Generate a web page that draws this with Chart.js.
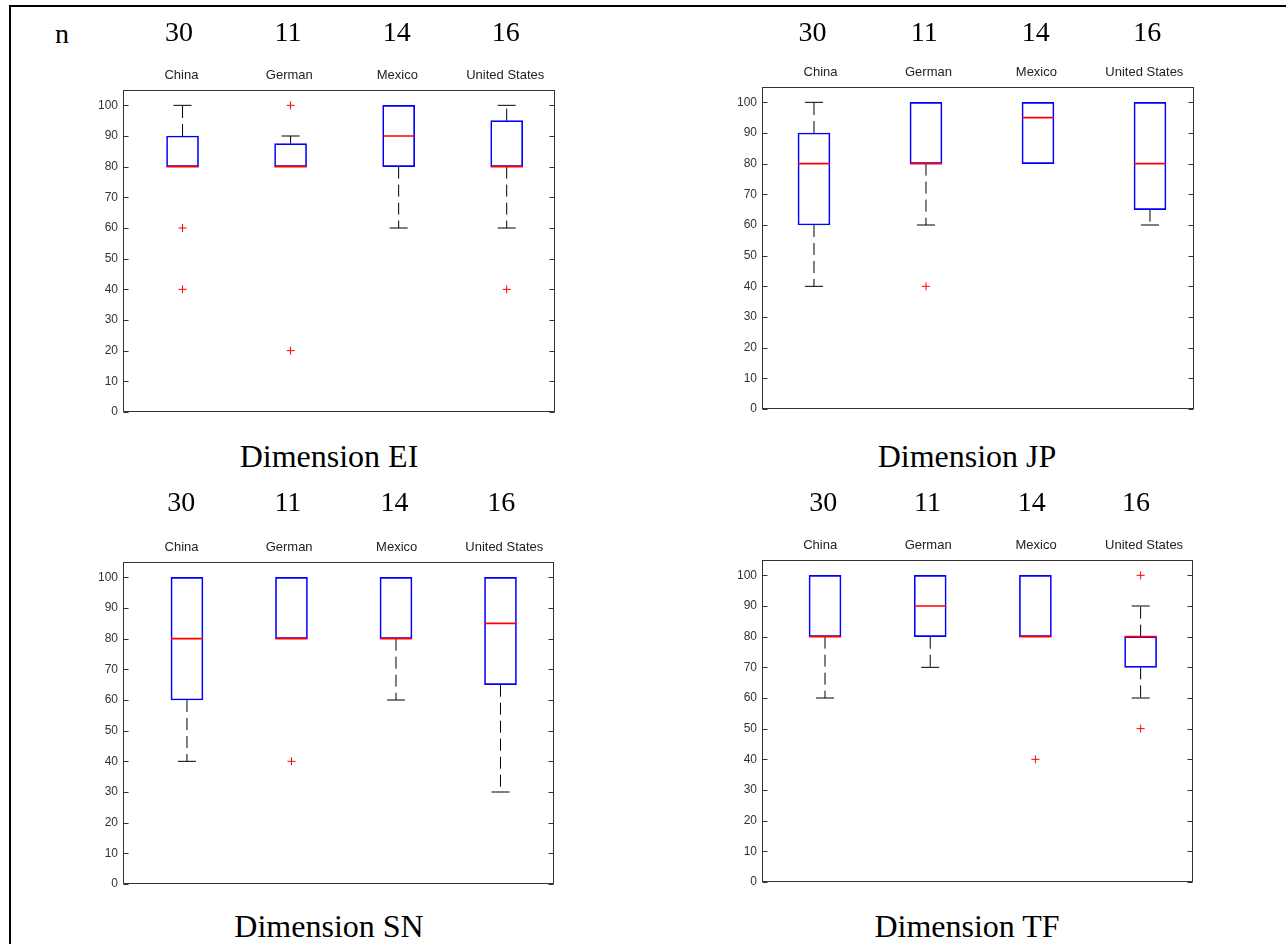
<!DOCTYPE html>
<html>
<head>
<meta charset="utf-8">
<script src="https://cdn.jsdelivr.net/npm/chart.js@4.4.0/dist/chart.umd.min.js"></script>
<style>
    body { margin: 0; background: #fff; width: 1286px; height: 944px; overflow: hidden; position: relative; }
    .moldura { position: absolute; left: 9px; top: 5px; right: 0; bottom: 0; border-top: 2px solid #000; border-left: 2px solid #000; }
    canvas { position: absolute; }
    .texto { position: absolute; font-family: "Liberation Serif", "Times New Roman", serif; color: #000; white-space: nowrap; transform: translateX(-50%); }
    .n { font-size: 28px; line-height: 28px; }
    .titulo { font-size: 32px; line-height: 32px; }
</style>
</head>
<body>
<div class="moldura"></div>
<div class="texto n" style="left:62px; top:20px">n</div>

<canvas id="chartEI" width="492" height="415" style="left:73px; top:10px"></canvas>
<canvas id="chartJP" width="492" height="412" style="left:712px; top:10px"></canvas>
<canvas id="chartSN" width="491" height="417" style="left:73px; top:480px"></canvas>
<canvas id="chartTF" width="491" height="415" style="left:712px; top:480px"></canvas>

<div class="texto titulo" style="left:329px; top:440px">Dimension EI</div>
<div class="texto titulo" style="left:967px; top:440px">Dimension JP</div>
<div class="texto titulo" style="left:329px; top:910px">Dimension SN</div>
<div class="texto titulo" style="left:967px; top:910px">Dimension TF</div>

<script>
const countries = ['China', 'German', 'Mexico', 'United States'];
const sampleSizes = [30, 11, 14, 16];
const yTicks = [0, 10, 20, 30, 40, 50, 60, 70, 80, 90, 100];

// Dimension EI
const eiLow = [80, 80, 60, 60];
const eiQ1 = [80, 80, 80, 80];
const eiMedian = [80, 80, 90, 80];
const eiQ3 = [90, 87.5, 100, 95];
const eiHigh = [100, 90, 100, 100];
const eiOutliers = [[60, 40], [100, 20], [], [40]];

// Dimension JP
const jpLow = [40, 60, 80, 60];
const jpQ1 = [60, 80, 80, 65];
const jpMedian = [80, 80, 95, 80];
const jpQ3 = [90, 100, 100, 100];
const jpHigh = [100, 100, 100, 100];
const jpOutliers = [[], [40], [], []];

// Dimension SN
const snLow = [40, 80, 60, 30];
const snQ1 = [60, 80, 80, 65];
const snMedian = [80, 80, 80, 85];
const snQ3 = [100, 100, 100, 100];
const snHigh = [100, 100, 100, 100];
const snOutliers = [[], [40], [], []];

// Dimension TF
const tfLow = [60, 70, 80, 60];
const tfQ1 = [80, 80, 80, 70];
const tfMedian = [80, 90, 80, 80];
const tfQ3 = [100, 100, 100, 80];
const tfHigh = [100, 100, 100, 90];
const tfOutliers = [[], [], [40], [100, 50]];

// moldura do grafico + marcas dos ticks para dentro (estilo matlab)
const molduraTicks = {
    id: 'molduraTicks',
    afterDraw(chart) {
        const ctx = chart.ctx;
        const area = chart.chartArea;
        const eixoY = chart.scales.y;
        const esq = Math.round(area.left) + 0.5;
        const dir = Math.round(area.right) - 0.5;
        ctx.save();
        ctx.strokeStyle = '#333333';
        ctx.lineWidth = 1;
        ctx.strokeRect(esq, Math.round(area.top) + 0.5, dir - esq, Math.round(area.bottom - area.top) - 1);
        ctx.beginPath();
        eixoY.ticks.forEach(function (tick) {
            let py = Math.round(eixoY.getPixelForValue(tick.value)) + 0.5;
            ctx.moveTo(esq, py);
            ctx.lineTo(esq + 5, py);
            ctx.moveTo(dir - 5, py);
            ctx.lineTo(dir, py);
        });
        ctx.stroke();
        ctx.restore();
    }
};

function eixoTopo(faixa, peso, altura, padding, fonte, cor, textos) {
    return {
        type: 'linear',
        position: 'top',
        min: faixa[0],
        max: faixa[1],
        offset: false,
        weight: peso,
        grid: { display: false, drawTicks: false },
        border: { display: false },
        afterBuildTicks: function (scale) {
            scale.ticks = textos.map(function (t, i) { return { value: i + 1 }; });
        },
        afterFit: function (scale) { scale.height = altura; },
        ticks: {
            padding: padding,
            autoSkip: false,
            maxRotation: 0,
            font: fonte,
            color: cor,
            callback: function (value, index) { return textos[index]; }
        }
    };
}

function plotarBoxplot(idCanvas, low, q1, median, q3, high, outliers, eixo) {
    let caixas = [];
    let medianas = [];
    let bigodes = [];
    let pontas = [];
    let pontos = [];

    for (let i = 0; i < countries.length; i++) {
        let x = i + 1;
        caixas.push({ x: x, y: [q1[i], q3[i]] });
        medianas.push({ x: x, y: median[i] });
        if (high[i] > q3[i]) {
            bigodes.push({ x: x, y: q3[i] }, { x: x, y: high[i] }, { x: x, y: null });
            pontas.push({ x: x, y: high[i] });
        }
        if (low[i] < q1[i]) {
            bigodes.push({ x: x, y: q1[i] }, { x: x, y: low[i] }, { x: x, y: null });
            pontas.push({ x: x, y: low[i] });
        }
        for (let j = 0; j < outliers[i].length; j++) {
            pontos.push({ x: x, y: outliers[i][j] });
        }
    }

    return new Chart(document.getElementById(idCanvas), {
        type: 'bar',
        data: {
            datasets: [
                { type: 'scatter', data: pontos, pointStyle: 'cross', pointRadius: 4, borderColor: '#ff0000', borderWidth: 1, order: 0 },
                { type: 'scatter', data: medianas, pointStyle: 'line', pointRadius: 16, borderColor: '#ff0000', borderWidth: 1.6, order: 1 },
                { type: 'scatter', data: pontas, pointStyle: 'line', pointRadius: 9, borderColor: '#000000', borderWidth: 1, order: 2 },
                { type: 'bar', data: caixas, backgroundColor: 'rgba(0,0,0,0)', borderColor: '#0000ff', borderWidth: 1, borderSkipped: false, barThickness: 32, order: 3 },
                { type: 'line', data: bigodes, borderColor: '#000000', borderWidth: 1, borderDash: [12, 6], pointRadius: 0, spanGaps: false, order: 4 }
            ]
        },
        options: {
            responsive: false,
            animation: false,
            events: [],
            layout: { autoPadding: false, padding: { top: 0, right: 10, bottom: 13, left: 0 } },
            plugins: {
                legend: { display: false },
                tooltip: { enabled: false }
            },
            scales: {
                x: { type: 'linear', display: false, min: eixo.caixas[0], max: eixo.caixas[1], offset: false },
                xc: eixoTopo(eixo.paises, 1, eixo.alturaPaises, 7, { family: '"Liberation Sans", Arial, sans-serif', size: 13 }, '#222222', countries),
                xn: eixoTopo(eixo.n, 2, 40, 0, { family: '"Liberation Serif", "Times New Roman", serif', size: 28 }, '#000000', sampleSizes),
                y: {
                    type: 'linear',
                    position: 'left',
                    min: 0,
                    max: 105,
                    grid: { display: false, drawTicks: false },
                    border: { display: false },
                    afterBuildTicks: function (scale) {
                        scale.ticks = yTicks.map(function (v) { return { value: v }; });
                    },
                    afterFit: function (scale) { scale.width = 50; },
                    ticks: {
                        padding: 5,
                        autoSkip: false,
                        font: { family: '"Liberation Sans", Arial, sans-serif', size: 12 },
                        color: '#333333'
                    }
                }
            }
        },
        plugins: [molduraTicks]
    });
}

plotarBoxplot('chartEI', eiLow, eiQ1, eiMedian, eiQ3, eiHigh, eiOutliers,
    { caixas: [0.449, 4.447], paises: [0.459, 4.461], n: [0.485, 4.453], alturaPaises: 40 });
plotarBoxplot('chartJP', jpLow, jpQ1, jpMedian, jpQ3, jpHigh, jpOutliers,
    { caixas: [0.536, 4.393], paises: [0.458, 4.46], n: [0.547, 4.418], alturaPaises: 37 });
plotarBoxplot('chartSN', snLow, snQ1, snMedian, snQ3, snHigh, snOutliers,
    { caixas: [0.388, 4.512], paises: [0.456, 4.462], n: [0.455, 4.494], alturaPaises: 42 });
plotarBoxplot('chartTF', tfLow, tfQ1, tfMedian, tfQ3, tfHigh, tfOutliers,
    { caixas: [0.401, 4.498], paises: [0.461, 4.453], n: [0.413, 4.546], alturaPaises: 40 });
</script>
</body>
</html>
